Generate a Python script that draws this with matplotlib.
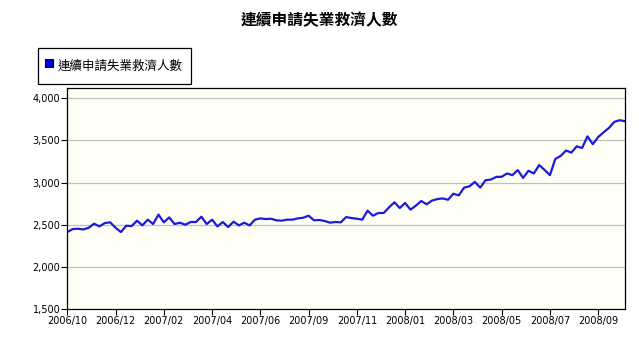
import matplotlib
matplotlib.use("Agg")
import matplotlib.pyplot as plt
from matplotlib.lines import Line2D
from matplotlib.ticker import FuncFormatter

plt.rcParams['font.family'] = ['Noto Sans CJK TC', 'DejaVu Sans']

# weekly continuing claims (thousands), week ending 2006/10/21 onwards
claims = [
    2413, 2448, 2452, 2444, 2464, 2512, 2480, 2520, 2528, 2464,
    2413, 2488, 2484, 2548, 2492, 2560, 2508, 2620, 2528, 2587,
    2508, 2524, 2500, 2532, 2532, 2595, 2508, 2560, 2480, 2532,
    2472, 2536, 2492, 2524, 2492, 2560, 2575, 2567, 2571, 2552,
    2548, 2560, 2560, 2575, 2583, 2607, 2552, 2556, 2544, 2524,
    2532, 2528, 2591, 2579, 2571, 2560, 2667, 2607, 2639, 2639,
    2706, 2766, 2698, 2758, 2679, 2726, 2782, 2742, 2786, 2804,
    2812, 2796, 2868, 2848, 2940, 2956, 3008, 2940, 3028, 3036,
    3068, 3068, 3108, 3088, 3148, 3056, 3140, 3108, 3208, 3150,
    3088, 3280, 3316, 3380, 3356, 3430, 3410, 3548, 3456, 3540,
    3596, 3648, 3720, 3740, 3728,
]
tick_labels = ["2006/10", "2006/12", "2007/02", "2007/04", "2007/06", "2007/09",
               "2007/11", "2008/01", "2008/03", "2008/05", "2008/07", "2008/09"]
tick_step = 9
y_ticks = [1500, 2000, 2500, 3000, 3500, 4000]
title = "連續申請失業救濟人數"

fig = plt.figure(figsize=(6.39, 3.53), dpi=100)
ax = fig.add_axes([67.3 / 639, 1 - 309 / 353, (625 - 67.3) / 639, (309 - 88) / 353])
ax.set_facecolor("#fffef4")

x = list(range(len(claims)))
line_color = "#1c1cd8"
ax.plot(x, claims, color=line_color, lw=1.6, solid_joinstyle="round")

ax.set_xlim(0, len(claims) - 1)
ax.set_ylim(1500, 4122)
ax.set_yticks(y_ticks)
ax.yaxis.set_major_formatter(FuncFormatter(lambda v, p: f"{int(v):,}"))
ax.set_xticks([i * tick_step for i in range(len(tick_labels))])
ax.set_xticklabels(tick_labels)
for yv in y_ticks[1:]:
    ax.axhline(yv, color="#c0c0c0", lw=0.9, zorder=0)

for s in ax.spines.values():
    s.set_color("black")
    s.set_linewidth(0.9)
ax.tick_params(direction="out", length=4, width=0.8, colors="black", labelsize=7, pad=1)
for lab in ax.get_xticklabels() + ax.get_yticklabels():
    lab.set_family("DejaVu Sans")

fig.text(0.5, 1 - 20 / 353, title, ha="center", va="center", fontsize=11.3,
         fontweight="bold")

handle = Line2D([], [], ls="none", marker="s", markersize=5.6,
                markerfacecolor="#0000e0", markeredgecolor="black", markeredgewidth=0.8)
leg = fig.legend([handle], [title], loc="upper left",
                 bbox_to_anchor=(38 / 639, 1 - 48 / 353), fancybox=False,
                 edgecolor="black", framealpha=1, fontsize=9,
                 handlelength=0.55, handleheight=2.1, handletextpad=0.42,
                 borderpad=0.62, borderaxespad=0)
leg.get_frame().set_linewidth(0.9)

fig.savefig("out.png", dpi=100)
